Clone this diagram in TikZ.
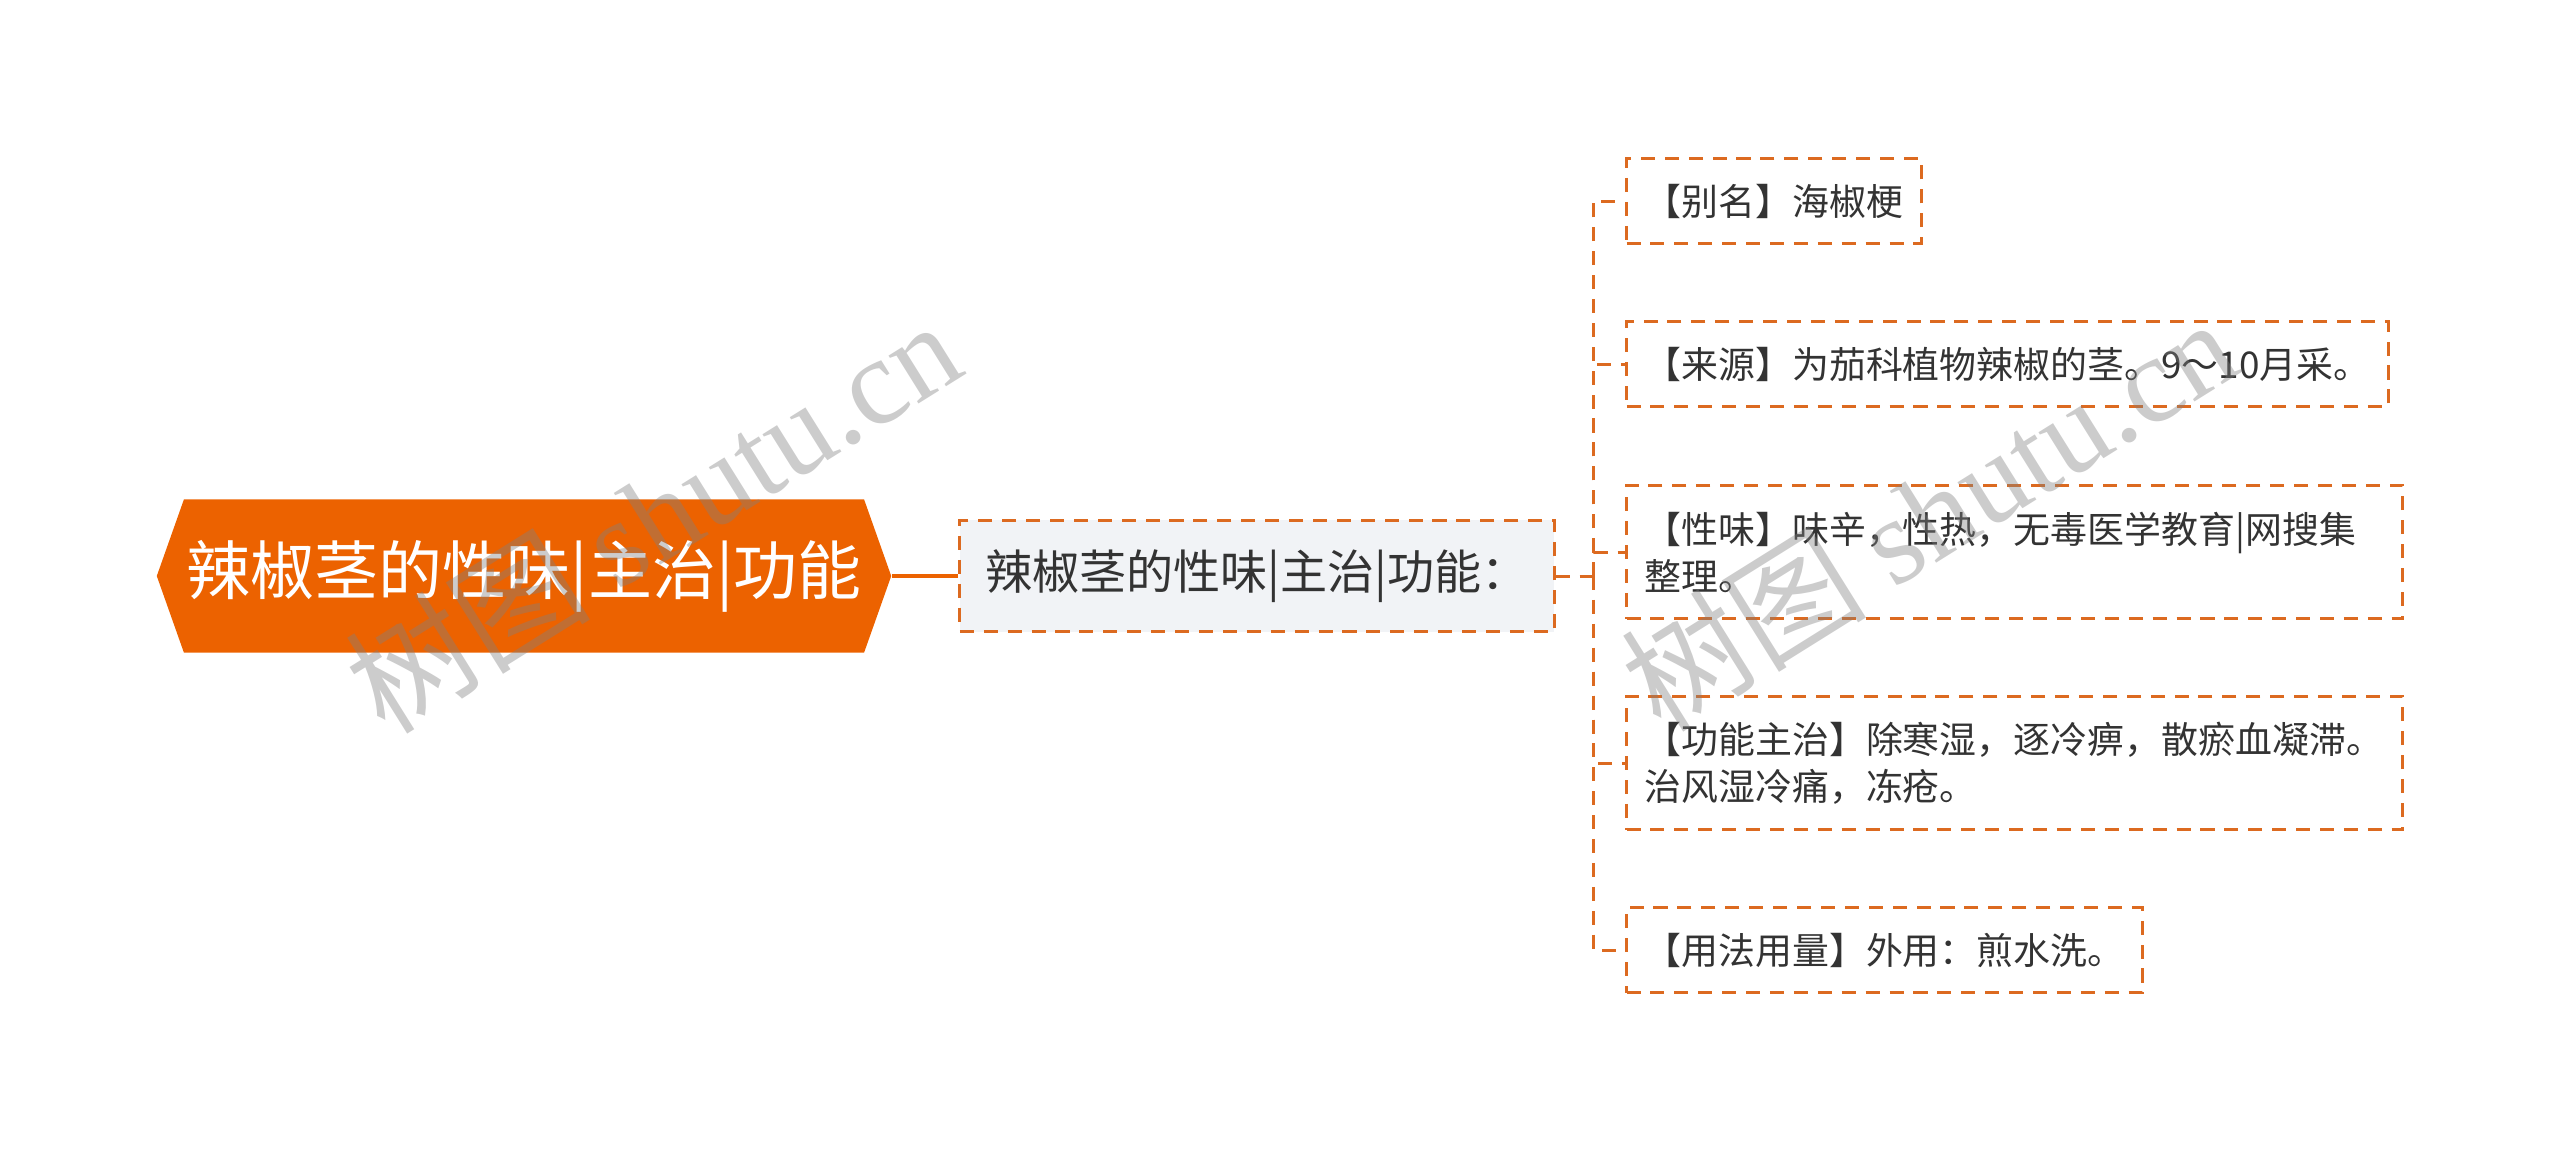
\documentclass[tikz,border=0pt]{standalone}
\usepackage{fontspec}
\setmainfont{Noto Sans CJK SC}
\newfontfamily\wmfont{Liberation Serif}
\usetikzlibrary{shapes.symbols}

\definecolor{rootorange}{HTML}{EC6200}
\definecolor{lineorange}{HTML}{DC6A20}
\definecolor{boxgray}{HTML}{F1F3F6}
\definecolor{textgray}{HTML}{333333}

\begin{document}
\begin{tikzpicture}[x=0.01cm, y=-0.01cm,
    rootnode/.style={signal, signal to=west and east, signal pointer angle=141,
      fill=rootorange, text=white, inner sep=0pt,
      minimum width=7.34cm, minimum height=1.53cm,
      font=\fontsize{18.2pt}{22pt}\selectfont},
    dashbox/.style={draw=lineorange, line width=0.85pt, dash pattern=on 4pt off 2.8pt},
    subnode/.style={dashbox, fill=boxgray, text=textgray,
      minimum width=5.94cm, minimum height=1.11cm,
      font=\fontsize{13.4pt}{16pt}\selectfont},
    leafnode/.style={dashbox, text=textgray, anchor=west, align=left,
      inner xsep=0.18cm, minimum height=0.85cm,
      font=\fontsize{10.5pt}{13.4pt}\selectfont},
    rootline/.style={draw=rootorange, line width=1.1pt},
    branch/.style={draw=lineorange, line width=0.85pt, dash pattern=on 4pt off 2.8pt},
    wmark/.style={text=black!50, opacity=0.4, font=\fontsize{35pt}{40pt}\selectfont}]

    \useasboundingbox (0,0) rectangle (2560,1153);

    % draw nodes
    \node[rootnode] (root) at (524,576) {辣椒茎的性味|主治|功能};
    \node[subnode] (child) at (1257,576) {辣椒茎的性味|主治|功能：};

    \node[leafnode] (alias) at (1625,201) {【别名】海椒梗};
    \node[leafnode] (source) at (1625,364) {【来源】为茄科植物辣椒的茎。9～10月采。};
    \node[leafnode, text width=7.4cm, minimum height=1.33cm] (taste) at (1625,552)
      {【性味】味辛，性热，无毒医学教育|网搜集\\整理。};
    \node[leafnode, text width=7.4cm, minimum height=1.33cm] (effect) at (1625,763)
      {【功能主治】除寒湿，逐冷痹，散瘀血凝滞。\\治风湿冷痛，冻疮。};
    \node[leafnode] (usage) at (1625,950) {【用法用量】外用：煎水洗。};

    % draw connectors
    \coordinate (fork) at ([xshift=0.38cm]child.east);
    \draw[rootline] (root.east) -- (child.west);
    \draw[branch] (child.east) -- (fork);
    \foreach \leaf in {alias,source,taste,effect,usage}
      \draw[branch] (fork) |- (\leaf.west);

    % watermarks
    \node[wmark, rotate=32] (wmleft) at (652,515) {树图 {\wmfont shutu.cn}};
    \node[wmark, rotate=32] (wmright) at (1928,513) {树图 {\wmfont shutu.cn}};
\end{tikzpicture}
\end{document}
